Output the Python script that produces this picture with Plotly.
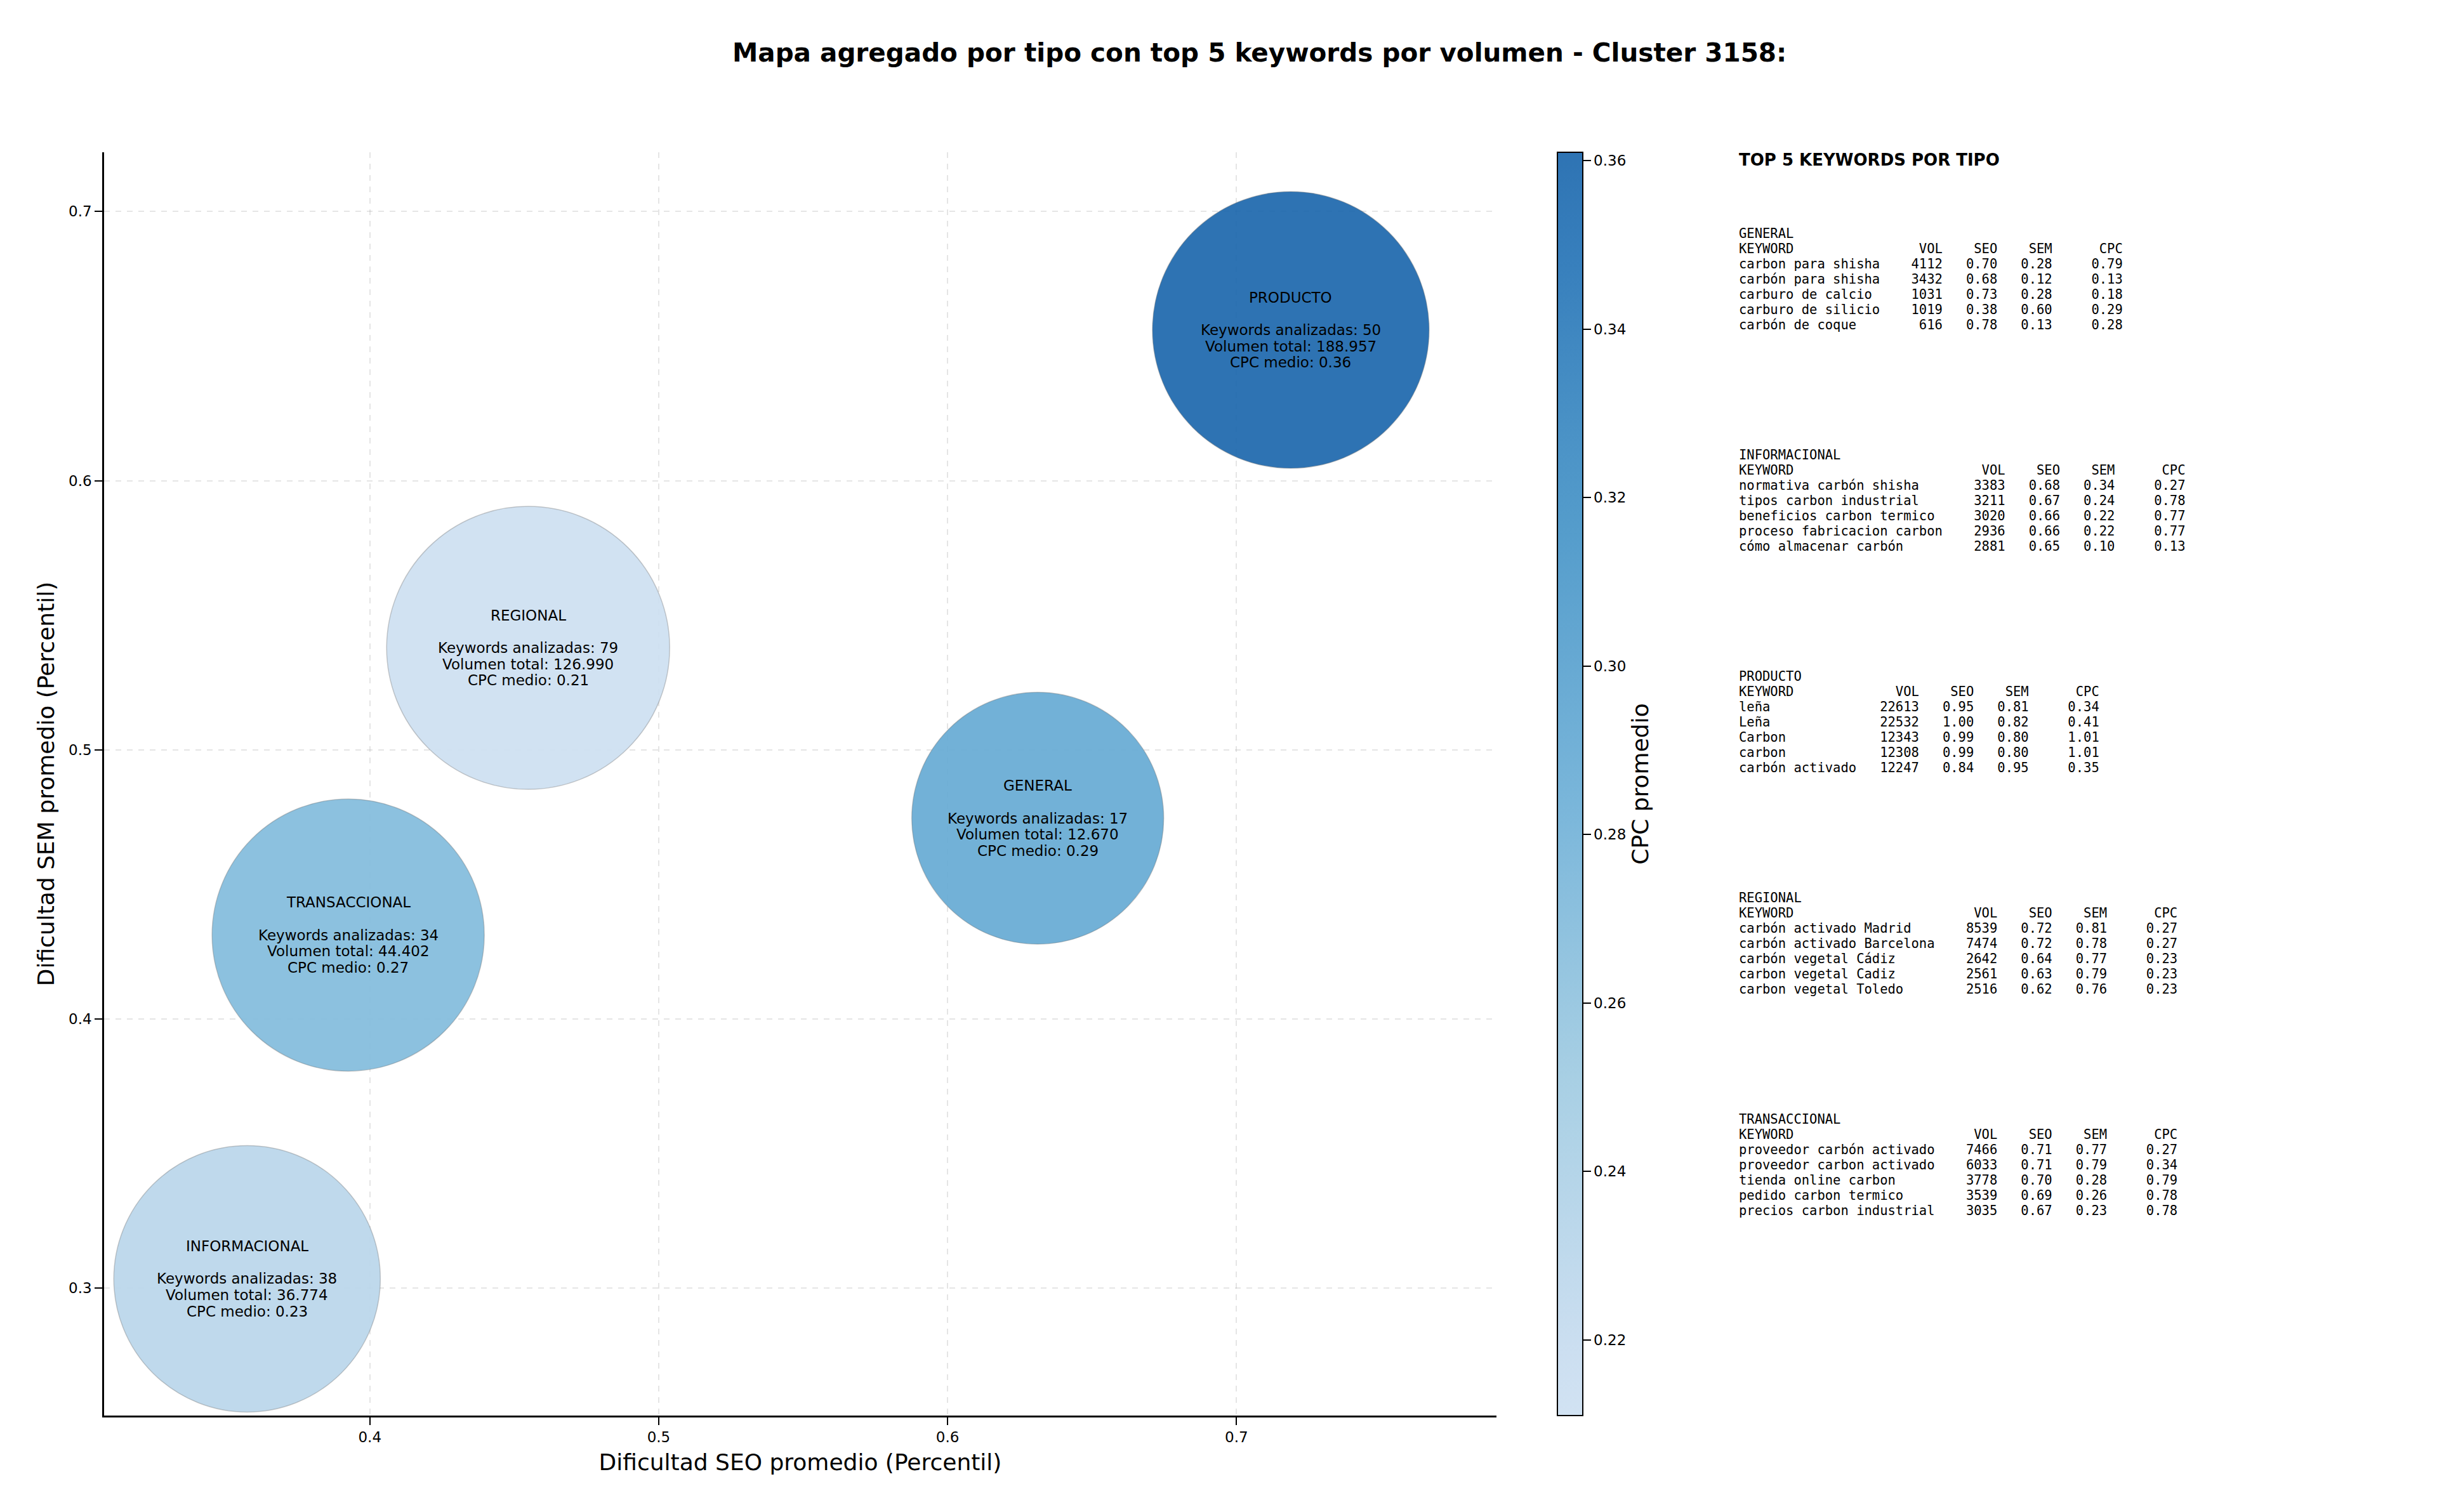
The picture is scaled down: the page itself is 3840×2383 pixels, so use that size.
import plotly.graph_objects as go

# ---------------- DATA ----------------
types = ["GENERAL", "INFORMACIONAL", "PRODUCTO", "REGIONAL", "TRANSACCIONAL"]
seo_mean = [0.6312, 0.3575, 0.7188, 0.4548, 0.3925]
sem_mean = [0.4746, 0.3035, 0.6560, 0.5379, 0.4312]
cpc_mean = [0.29, 0.23, 0.361, 0.211, 0.27]
kw_count = [17, 38, 50, 79, 34]
vol_total = [12670, 36774, 188957, 126990, 44402]

top_general = [
    ("carbon para shisha", 4112, 0.70, 0.28, 0.79),
    ("carbón para shisha", 3432, 0.68, 0.12, 0.13),
    ("carburo de calcio", 1031, 0.73, 0.28, 0.18),
    ("carburo de silicio", 1019, 0.38, 0.60, 0.29),
    ("carbón de coque", 616, 0.78, 0.13, 0.28),
]
top_informacional = [
    ("normativa carbón shisha", 3383, 0.68, 0.34, 0.27),
    ("tipos carbon industrial", 3211, 0.67, 0.24, 0.78),
    ("beneficios carbon termico", 3020, 0.66, 0.22, 0.77),
    ("proceso fabricacion carbon", 2936, 0.66, 0.22, 0.77),
    ("cómo almacenar carbón", 2881, 0.65, 0.10, 0.13),
]
top_producto = [
    ("leña", 22613, 0.95, 0.81, 0.34),
    ("Leña", 22532, 1.00, 0.82, 0.41),
    ("Carbon", 12343, 0.99, 0.80, 1.01),
    ("carbon", 12308, 0.99, 0.80, 1.01),
    ("carbón activado", 12247, 0.84, 0.95, 0.35),
]
top_regional = [
    ("carbón activado Madrid", 8539, 0.72, 0.81, 0.27),
    ("carbón activado Barcelona", 7474, 0.72, 0.78, 0.27),
    ("carbón vegetal Cádiz", 2642, 0.64, 0.77, 0.23),
    ("carbon vegetal Cadiz", 2561, 0.63, 0.79, 0.23),
    ("carbon vegetal Toledo", 2516, 0.62, 0.76, 0.23),
]
top_transaccional = [
    ("proveedor carbón activado", 7466, 0.71, 0.77, 0.27),
    ("proveedor carbon activado", 6033, 0.71, 0.79, 0.34),
    ("tienda online carbon", 3778, 0.70, 0.28, 0.79),
    ("pedido carbon termico", 3539, 0.69, 0.26, 0.78),
    ("precios carbon industrial", 3035, 0.67, 0.23, 0.78),
]
top_blocks = [
    ("GENERAL", top_general),
    ("INFORMACIONAL", top_informacional),
    ("PRODUCTO", top_producto),
    ("REGIONAL", top_regional),
    ("TRANSACCIONAL", top_transaccional),
]

title_text = "Mapa agregado por tipo con top 5 keywords por volumen - Cluster 3158:"
x_title = "Dificultad SEO promedio (Percentil)"
y_title = "Dificultad SEM promedio (Percentil)"
cbar_title = "CPC promedio"
panel_title = "TOP 5 KEYWORDS POR TIPO"

# ---------------- STYLE ----------------
W, H = 3840, 2383
PL, PR, PT, PB = 164, 2358, 240, 2231  # plot area in px
bubble_diam = {"GENERAL": 397, "INFORMACIONAL": 420, "PRODUCTO": 436,
               "REGIONAL": 446, "TRANSACCIONAL": 429}
FONT = "DejaVu Sans, Liberation Sans, sans-serif"
MONO = "DejaVu Sans Mono, Liberation Mono, monospace"
NB = "\u00a0"


def py(ypx):
    return (PB - ypx) / (PB - PT)


def px(xpx):
    return (xpx - PL) / (PR - PL)


def es_int(v):
    return f"{v:,}".replace(",", ".")


# Blues-like colorscale (alpha 0.9)
alpha = 0.9
anchors = [
    (0.0, (204, 223, 241)),
    (0.0517, (198, 219, 239)),
    (0.267, (158, 202, 225)),
    (0.483, (107, 174, 214)),
    (0.698, (66, 146, 198)),
    (0.914, (33, 113, 181)),
    (1.0, (23, 100, 171)),
]
colorscale = [[t, f"rgba({r},{g},{b},{alpha})"] for t, (r, g, b) in anchors]

fig = go.Figure()
fig.add_trace(go.Scatter(
    x=seo_mean, y=sem_mean, mode="markers",
    marker=dict(
        size=[bubble_diam[t] for t in types], sizemode="diameter", opacity=1,
        color=cpc_mean, colorscale=colorscale, showscale=True,
        line=dict(color="rgba(110,110,110,0.35)", width=1.5),
        colorbar=dict(
            x=px(2454), xanchor="left", xpad=0, ypad=0,
            y=0.5, yanchor="middle", len=1, lenmode="fraction",
            thickness=40, thicknessmode="pixels",
            outlinewidth=2, outlinecolor="black",
            ticks="outside", ticklen=12, tickwidth=2, tickcolor="black",
            tick0=0, dtick=0.02, tickformat=".2f",
            tickfont=dict(family=FONT, size=23, color="black"),
            title=dict(text=cbar_title, side="right",
                       font=dict(family=FONT, size=36, color="black")),
        ),
    ),
    hoverinfo="skip", showlegend=False,
))

annotations = []
# bubble labels
LS = 25.7
for t, x, y, n, v, c in zip(types, seo_mean, sem_mean, kw_count, vol_total, cpc_mean):
    lines = [t, "", f"Keywords analizadas: {n}", f"Volumen total: {es_int(v)}",
             f"CPC medio: {c:.2f}"]
    for i, ln in enumerate(lines):
        if not ln:
            continue
        annotations.append(dict(
            x=x, y=y, xref="x", yref="y", text=ln, showarrow=False,
            xanchor="center", yanchor="middle", yshift=(2 - i) * LS,
            font=dict(family=FONT, size=23, color="black"),
        ))

# title
annotations.append(dict(
    x=px(1984), y=py(83), xref="paper", yref="paper",
    text=f"<b>{title_text}</b>", showarrow=False, xanchor="center", yanchor="middle",
    font=dict(family=FONT, size=40.5, color="black"),
))

# text panel
annotations.append(dict(
    x=px(2738), y=py(252), xref="paper", yref="paper",
    text=f"<b>{panel_title}</b>", showarrow=False, xanchor="left", yanchor="middle",
    font=dict(family=FONT, size=26, color="black"),
))
for b, (name, rows) in enumerate(top_blocks):
    L = max(len(r[0]) for r in rows)
    lines = [name,
             "KEYWORD".ljust(L) + "VOL".rjust(8) + "SEO".rjust(7) + "SEM".rjust(7) + "CPC".rjust(9)]
    for kw, vol, seo, sem, cpc in rows:
        lines.append(kw.ljust(L) + f"{vol:>8}" + f"{seo:>7.2f}" + f"{sem:>7.2f}" + f"{cpc:>9.2f}")
    y0 = 368 + b * 349
    for i, ln in enumerate(lines):
        annotations.append(dict(
            x=px(2738), y=py(y0 + i * 24), xref="paper", yref="paper",
            text=ln.replace(" ", NB), showarrow=False, xanchor="left", yanchor="middle",
            font=dict(family=MONO, size=20.5, color="black"),
        ))

axis_common = dict(
    showgrid=True, gridcolor="rgba(170,170,170,0.3)", griddash="dash", gridwidth=1.5,
    zeroline=False, showline=True, linecolor="black", linewidth=2.5,
    ticks="outside", ticklen=12, tickwidth=2, tickcolor="black",
    tickfont=dict(family=FONT, size=23, color="black"),
)

fig.update_layout(
    width=W, height=H, autosize=False,
    margin=dict(l=PL, r=W - PR, t=PT, b=H - PB, pad=0),
    paper_bgcolor="white", plot_bgcolor="white",
    xaxis=dict(range=[0.308, 0.790], tickvals=[0.4, 0.5, 0.6, 0.7], tickformat=".1f",
               title=dict(text=x_title, standoff=15, font=dict(family=FONT, size=36, color="black")),
               **axis_common),
    yaxis=dict(range=[0.2527, 0.722], tickvals=[0.3, 0.4, 0.5, 0.6, 0.7], tickformat=".1f",
               title=dict(text=y_title, standoff=12, font=dict(family=FONT, size=36, color="black")),
               **axis_common),
    annotations=annotations,
    font=dict(family=FONT, color="black"),
)

fig.write_html("out.html")
